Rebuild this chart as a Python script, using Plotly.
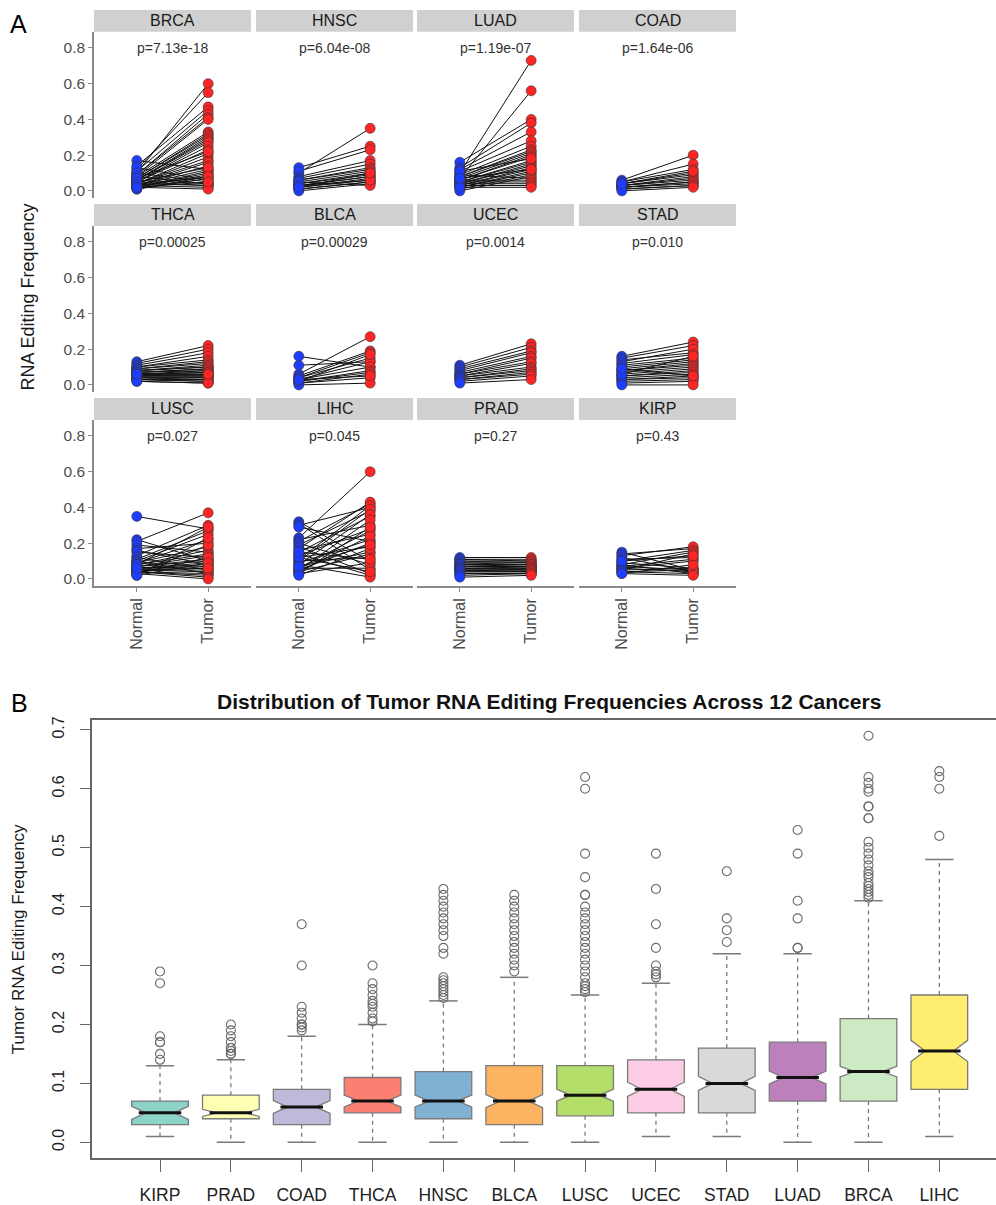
import plotly.graph_objects as go

W, H = 996, 1205
FONT = "Liberation Sans, Arial, Helvetica, sans-serif"

# ---------------- Panel A data ----------------
panel_order = ["BRCA", "HNSC", "LUAD", "COAD",
               "THCA", "BLCA", "UCEC", "STAD",
               "LUSC", "LIHC", "PRAD", "KIRP"]
p_labels = ["p=7.13e-18", "p=6.04e-08", "p=1.19e-07", "p=1.64e-06",
            "p=0.00025", "p=0.00029", "p=0.0014", "p=0.010",
            "p=0.027", "p=0.045", "p=0.27", "p=0.43"]
group_ticks = ["Normal", "Tumor"]
a_yticks = [0.0, 0.2, 0.4, 0.6, 0.8]
a_yticktext = ["0.0", "0.2", "0.4", "0.6", "0.8"]

normal_vals = {
    "BRCA": [0.10, 0.12, 0.17, 0.14, 0.11, 0.09, 0.09, 0.08, 0.08, 0.07, 0.07, 0.06, 0.06, 0.06,
             0.05, 0.05, 0.05, 0.04, 0.04, 0.04, 0.03, 0.03, 0.03, 0.02, 0.02, 0.02, 0.01, 0.01,
             0.13, 0.10, 0.08, 0.06, 0.05, 0.04, 0.03, 0.02, 0.07, 0.05, 0.03, 0.02],
    "HNSC": [0.10, 0.13, 0.11, 0.08, 0.07, 0.06, 0.06, 0.05, 0.04, 0.04, 0.03, 0.03, 0.02, 0.02,
             0.01, 0.01, 0.00, 0.05, 0.03, 0.02],
    "LUAD": [0.10, 0.07, 0.16, 0.13, 0.12, 0.11, 0.09, 0.08, 0.08, 0.07, 0.06, 0.06, 0.05, 0.05,
             0.04, 0.04, 0.03, 0.03, 0.02, 0.02, 0.01, 0.00, 0.09, 0.06, 0.05, 0.04, 0.03, 0.02,
             0.11, 0.07],
    "COAD": [0.06, 0.05, 0.05, 0.04, 0.04, 0.03, 0.03, 0.03, 0.02, 0.02, 0.02, 0.01, 0.01, 0.00, 0.04],
    "THCA": [0.13, 0.12, 0.11, 0.10, 0.10, 0.09, 0.09, 0.08, 0.08, 0.08, 0.07, 0.07, 0.07, 0.06,
             0.06, 0.06, 0.06, 0.05, 0.05, 0.05, 0.05, 0.04, 0.04, 0.04, 0.03, 0.03, 0.03, 0.02,
             0.02, 0.06],
    "BLCA": [0.16, 0.11, 0.06, 0.05, 0.04, 0.04, 0.03, 0.03, 0.02, 0.02, 0.01, 0.01, 0.00, 0.02, 0.03],
    "UCEC": [0.11, 0.10, 0.09, 0.08, 0.07, 0.06, 0.06, 0.05, 0.05, 0.04, 0.04, 0.03, 0.03, 0.02, 0.01],
    "STAD": [0.16, 0.15, 0.14, 0.13, 0.12, 0.11, 0.10, 0.09, 0.08, 0.08, 0.07, 0.06, 0.05, 0.05,
             0.04, 0.03, 0.03, 0.02, 0.01, 0.00, 0.06, 0.09],
    "LUSC": [0.35, 0.22, 0.21, 0.19, 0.17, 0.16, 0.15, 0.13, 0.12, 0.11, 0.10, 0.10, 0.09, 0.09,
             0.08, 0.08, 0.07, 0.07, 0.07, 0.06, 0.06, 0.06, 0.05, 0.05, 0.05, 0.04, 0.04, 0.04,
             0.03, 0.03, 0.03, 0.02, 0.02, 0.08, 0.06],
    "LIHC": [0.32, 0.31, 0.30, 0.29, 0.23, 0.22, 0.21, 0.20, 0.19, 0.18, 0.17, 0.16, 0.15, 0.14,
             0.13, 0.12, 0.11, 0.10, 0.10, 0.09, 0.08, 0.08, 0.07, 0.06, 0.06, 0.05, 0.05, 0.04,
             0.04, 0.03, 0.03, 0.02, 0.12, 0.15, 0.07],
    "PRAD": [0.12, 0.11, 0.11, 0.10, 0.10, 0.09, 0.09, 0.08, 0.08, 0.08, 0.07, 0.07, 0.07, 0.06,
             0.06, 0.06, 0.05, 0.05, 0.05, 0.04, 0.04, 0.03, 0.03, 0.02, 0.01],
    "KIRP": [0.15, 0.14, 0.13, 0.12, 0.11, 0.10, 0.09, 0.08, 0.08, 0.07, 0.07, 0.06, 0.06, 0.05,
             0.05, 0.04, 0.04, 0.03, 0.03, 0.10],
}
tumor_vals = {
    "BRCA": [0.60, 0.55, 0.12, 0.47, 0.45, 0.43, 0.41, 0.40, 0.33, 0.32, 0.31, 0.30, 0.29, 0.28,
             0.27, 0.25, 0.23, 0.21, 0.19, 0.17, 0.16, 0.14, 0.12, 0.11, 0.10, 0.09, 0.08, 0.07,
             0.06, 0.05, 0.04, 0.04, 0.03, 0.03, 0.02, 0.01, 0.22, 0.13, 0.08, 0.05],
    "HNSC": [0.35, 0.25, 0.23, 0.17, 0.15, 0.13, 0.12, 0.11, 0.10, 0.09, 0.08, 0.08, 0.07, 0.06,
             0.05, 0.05, 0.04, 0.03, 0.06, 0.10],
    "LUAD": [0.73, 0.56, 0.40, 0.38, 0.33, 0.28, 0.25, 0.23, 0.22, 0.21, 0.20, 0.19, 0.17, 0.16,
             0.15, 0.14, 0.13, 0.12, 0.11, 0.10, 0.09, 0.08, 0.07, 0.06, 0.05, 0.04, 0.03, 0.02,
             0.18, 0.12],
    "COAD": [0.20, 0.15, 0.12, 0.10, 0.09, 0.08, 0.07, 0.06, 0.05, 0.05, 0.04, 0.03, 0.03, 0.02, 0.11],
    "THCA": [0.22, 0.20, 0.18, 0.16, 0.14, 0.13, 0.12, 0.11, 0.10, 0.10, 0.09, 0.09, 0.08, 0.08,
             0.07, 0.07, 0.06, 0.06, 0.05, 0.05, 0.05, 0.04, 0.04, 0.03, 0.03, 0.02, 0.02, 0.01,
             0.01, 0.06],
    "BLCA": [0.10, 0.13, 0.27, 0.19, 0.18, 0.15, 0.13, 0.10, 0.08, 0.07, 0.06, 0.04, 0.01, 0.17, 0.05],
    "UCEC": [0.23, 0.21, 0.19, 0.18, 0.16, 0.15, 0.13, 0.12, 0.10, 0.09, 0.08, 0.07, 0.06, 0.05, 0.03],
    "STAD": [0.24, 0.22, 0.18, 0.20, 0.17, 0.15, 0.14, 0.13, 0.12, 0.11, 0.10, 0.09, 0.08, 0.07,
             0.06, 0.05, 0.04, 0.03, 0.02, 0.00, 0.16, 0.05],
    "LUSC": [0.28, 0.10, 0.37, 0.15, 0.20, 0.08, 0.12, 0.30, 0.05, 0.27, 0.25, 0.03, 0.22, 0.18,
             0.16, 0.14, 0.13, 0.11, 0.10, 0.09, 0.08, 0.07, 0.06, 0.05, 0.04, 0.03, 0.02, 0.01,
             0.00, 0.12, 0.19, 0.23, 0.09, 0.29, 0.06],
    "LIHC": [0.10, 0.05, 0.40, 0.21, 0.60, 0.30, 0.42, 0.08, 0.38, 0.03, 0.43, 0.25, 0.35, 0.02,
             0.28, 0.18, 0.41, 0.39, 0.12, 0.22, 0.01, 0.36, 0.15, 0.27, 0.06, 0.33, 0.20, 0.14,
             0.24, 0.09, 0.29, 0.17, 0.04, 0.11, 0.19],
    "PRAD": [0.12, 0.11, 0.10, 0.10, 0.09, 0.09, 0.08, 0.08, 0.08, 0.07, 0.07, 0.07, 0.06, 0.06,
             0.06, 0.05, 0.05, 0.05, 0.04, 0.04, 0.04, 0.03, 0.03, 0.03, 0.02],
    "KIRP": [0.05, 0.17, 0.18, 0.04, 0.12, 0.16, 0.06, 0.03, 0.15, 0.05, 0.11, 0.04, 0.10, 0.06,
             0.14, 0.03, 0.05, 0.02, 0.08, 0.13],
}

# ---------------- Panel B data ----------------
cancers_b = ["KIRP", "PRAD", "COAD", "THCA", "HNSC", "BLCA",
             "LUSC", "UCEC", "STAD", "LUAD", "BRCA", "LIHC"]
fill_colors = ["#8DD3C7", "#FFFFB3", "#BEBADA", "#FB8072", "#80B1D3", "#FDB462",
               "#B3DE69", "#FCCDE5", "#D9D9D9", "#BC80BD", "#CCEBC5", "#FFED6F"]
q1_vals = [0.030, 0.040, 0.030, 0.050, 0.040, 0.030, 0.045, 0.050, 0.050, 0.070, 0.070, 0.090]
median_vals = [0.050, 0.050, 0.060, 0.070, 0.070, 0.070, 0.080, 0.090, 0.100, 0.110, 0.120, 0.155]
q3_vals = [0.070, 0.080, 0.090, 0.110, 0.120, 0.130, 0.130, 0.140, 0.160, 0.170, 0.210, 0.250]
whisk_lo = [0.010, 0.000, 0.000, 0.000, 0.000, 0.000, 0.000, 0.010, 0.010, 0.000, 0.000, 0.010]
whisk_hi = [0.130, 0.140, 0.180, 0.200, 0.240, 0.280, 0.250, 0.270, 0.320, 0.320, 0.410, 0.480]
notch_span = [0.011, 0.006, 0.011, 0.010, 0.010, 0.011, 0.010, 0.012, 0.012, 0.011, 0.009, 0.018]
outlier_vals = {
    "KIRP": [0.29, 0.27, 0.18, 0.17, 0.17, 0.15, 0.14],
    "PRAD": [0.20, 0.19, 0.18, 0.17, 0.16, 0.16, 0.155, 0.15, 0.15],
    "COAD": [0.37, 0.30, 0.23, 0.22, 0.21, 0.20, 0.20, 0.195, 0.19],
    "THCA": [0.30, 0.27, 0.26, 0.25, 0.24, 0.235, 0.23, 0.22, 0.21, 0.205],
    "HNSC": [0.43, 0.42, 0.41, 0.40, 0.39, 0.38, 0.37, 0.36, 0.35, 0.33, 0.32, 0.28, 0.275,
             0.27, 0.265, 0.26, 0.255, 0.25, 0.245],
    "BLCA": [0.42, 0.41, 0.40, 0.39, 0.38, 0.37, 0.36, 0.35, 0.34, 0.33, 0.32, 0.31, 0.30, 0.29],
    "LUSC": [0.62, 0.60, 0.49, 0.45, 0.42, 0.42, 0.40, 0.39, 0.38, 0.37, 0.36, 0.35, 0.34, 0.33,
             0.32, 0.31, 0.30, 0.29, 0.28, 0.27, 0.265, 0.26, 0.255],
    "UCEC": [0.49, 0.43, 0.37, 0.33, 0.30, 0.29, 0.285, 0.28],
    "STAD": [0.46, 0.38, 0.36, 0.34],
    "LUAD": [0.53, 0.49, 0.41, 0.38, 0.33, 0.33],
    "BRCA": [0.69, 0.62, 0.61, 0.60, 0.595, 0.57, 0.57, 0.55, 0.55, 0.51, 0.50, 0.49, 0.48,
             0.47, 0.46, 0.455, 0.45, 0.44, 0.435, 0.43, 0.425, 0.42, 0.415],
    "LIHC": [0.63, 0.62, 0.60, 0.52],
}
b_yticks = [0.0, 0.1, 0.2, 0.3, 0.4, 0.5, 0.6, 0.7]
b_yticktext = ["0.0", "0.1", "0.2", "0.3", "0.4", "0.5", "0.6", "0.7"]


def px_x(v):
    return v / W


def px_y(v):
    return 1 - v / H


fig = go.Figure()
layout_axes = {}
annotations = []
shapes = []

AX_GRAY = "#8a8a8a"
TXT_GRAY = "#4d4d4d"

col_left = [94, 256, 417, 579]
panel_w = 157
row_top = [6, 201, 396]
strip_h = 22
panel_h = 167

for k, c in enumerate(panel_order):
    r, cc = divmod(k, 4)
    idx = k + 1
    suffix = "" if idx == 1 else str(idx)
    xname, yname = "x" + suffix, "y" + suffix
    x0 = col_left[cc]
    x1 = x0 + panel_w
    s0 = row_top[r]
    s1 = s0 + strip_h
    p1 = s1 + panel_h
    bottom = (r == 2)
    left = (cc == 0)
    layout_axes["xaxis" + suffix] = dict(
        domain=[px_x(x0), px_x(x1)], range=[0.4, 2.6], anchor=yname,
        tickvals=[1, 2], ticktext=group_ticks, showticklabels=bottom,
        ticks="outside" if bottom else "", ticklen=4, tickcolor=AX_GRAY,
        showline=bottom, linecolor=AX_GRAY, linewidth=1.5, tickangle=-90,
        showgrid=False, zeroline=False,
        tickfont=dict(family=FONT, size=16, color=TXT_GRAY))
    layout_axes["yaxis" + suffix] = dict(
        domain=[px_y(p1), px_y(s1)], range=[-0.04, 0.89], anchor=xname,
        tickvals=a_yticks, ticktext=a_yticktext, showticklabels=left,
        ticks="outside" if left else "", ticklen=4, tickcolor=AX_GRAY,
        showline=left, linecolor=AX_GRAY, linewidth=1.5,
        showgrid=False, zeroline=False,
        tickfont=dict(family=FONT, size=15.5, color=TXT_GRAY))

    nv = normal_vals[c]
    tv = tumor_vals[c]
    xs, ys = [], []
    for n, t in zip(nv, tv):
        xs += [1, 2, None]
        ys += [n, t, None]
    fig.add_trace(go.Scatter(x=xs, y=ys, mode="lines",
                             line=dict(color="#111111", width=1.0),
                             xaxis=xname, yaxis=yname, showlegend=False, hoverinfo="skip"))
    fig.add_trace(go.Scatter(x=[1] * len(nv), y=nv, mode="markers",
                             marker=dict(size=10, color="#1f3dff",
                                         line=dict(color="#333333", width=0.6)),
                             xaxis=xname, yaxis=yname, showlegend=False))
    fig.add_trace(go.Scatter(x=[2] * len(tv), y=tv, mode="markers",
                             marker=dict(size=10, color="#ff2525",
                                         line=dict(color="#333333", width=0.6)),
                             xaxis=xname, yaxis=yname, showlegend=False))

    shapes.append(dict(type="rect", xref="paper", yref="paper",
                       x0=px_x(x0), x1=px_x(x1), y0=px_y(s1), y1=px_y(s0),
                       fillcolor="#d0d0d0", line=dict(width=0), layer="below"))
    annotations.append(dict(text=c, xref="paper", yref="paper",
                            x=px_x((x0 + x1) / 2), y=px_y((s0 + s1) / 2),
                            xanchor="center", yanchor="middle", showarrow=False,
                            font=dict(family=FONT, size=16, color="#1a1a1a")))
    annotations.append(dict(text=p_labels[k], xref=xname, yref=yname,
                            x=1.5, y=0.8, xanchor="center", yanchor="middle",
                            showarrow=False,
                            font=dict(family=FONT, size=14, color="#333333")))

annotations.append(dict(text="RNA Editing Frequency", xref="paper", yref="paper",
                        x=px_x(28), y=px_y(295), textangle=-90, showarrow=False,
                        xanchor="center", yanchor="middle",
                        font=dict(family=FONT, size=18, color="#1a1a1a")))
annotations.append(dict(text="A", xref="paper", yref="paper", x=px_x(8), y=px_y(20),
                        xanchor="left", yanchor="middle", showarrow=False,
                        font=dict(family=FONT, size=25, color="#000000")))

# ---------------- Panel B ----------------
BX, BY = "x13", "y13"
BOX_LINE = "#7a7a7a"
wx, wy, cx, cy, mx, my = [], [], [], [], [], []
ox, oy = [], []
for i, c in enumerate(cancers_b):
    pos = i + 1
    fig.add_trace(go.Box(
        x=[pos], q1=[q1_vals[i]], median=[median_vals[i]], q3=[q3_vals[i]],
        lowerfence=[q1_vals[i]], upperfence=[q3_vals[i]], notchspan=[notch_span[i]],
        notched=True, notchwidth=0.25, width=0.8, whiskerwidth=0,
        fillcolor=fill_colors[i], line=dict(color=BOX_LINE, width=1.3),
        boxpoints=False, xaxis=BX, yaxis=BY, showlegend=False, name=c))
    wx += [pos, pos, None, pos, pos, None]
    wy += [q3_vals[i], whisk_hi[i], None, q1_vals[i], whisk_lo[i], None]
    cx += [pos - 0.2, pos + 0.2, None, pos - 0.2, pos + 0.2, None]
    cy += [whisk_hi[i], whisk_hi[i], None, whisk_lo[i], whisk_lo[i], None]
    mx += [pos - 0.3, pos + 0.3, None]
    my += [median_vals[i], median_vals[i], None]
    ox += [pos] * len(outlier_vals[c])
    oy += outlier_vals[c]

fig.add_trace(go.Scatter(x=wx, y=wy, mode="lines",
                         line=dict(color=BOX_LINE, width=1.3, dash="4px,4px"),
                         xaxis=BX, yaxis=BY, showlegend=False, hoverinfo="skip"))
fig.add_trace(go.Scatter(x=cx, y=cy, mode="lines",
                         line=dict(color=BOX_LINE, width=1.5),
                         xaxis=BX, yaxis=BY, showlegend=False, hoverinfo="skip"))
fig.add_trace(go.Scatter(x=mx, y=my, mode="lines",
                         line=dict(color="#111111", width=3),
                         xaxis=BX, yaxis=BY, showlegend=False, hoverinfo="skip"))
fig.add_trace(go.Scatter(x=ox, y=oy, mode="markers",
                         marker=dict(symbol="circle-open", size=9, color="#6a6a6a",
                                     line=dict(width=1.1)),
                         xaxis=BX, yaxis=BY, showlegend=False))

layout_axes["xaxis13"] = dict(
    domain=[px_x(92), 1.0], range=[0.04, 12.80], anchor=BY,
    tickvals=list(range(1, 13)), ticktext=cancers_b,
    ticks="outside", ticklen=12, tickcolor="#666666", tickwidth=1.3,
    showline=True, mirror=True, linecolor="#666666", linewidth=1.5,
    showgrid=False, zeroline=False, ticklabelstandoff=8,
    tickfont=dict(family=FONT, size=17.5, color="#222222"))
layout_axes["yaxis13"] = dict(
    domain=[px_y(1160), px_y(720)], range=[-0.027, 0.716], anchor=BX,
    tickvals=b_yticks, ticktext=b_yticktext, tickangle=-90,
    ticks="outside", ticklen=10, tickcolor="#666666", tickwidth=1.3,
    showline=True, linecolor="#666666", linewidth=1.5,
    showgrid=False, zeroline=False, ticklabelstandoff=10,
    tickfont=dict(family=FONT, size=16, color="#222222"))

annotations.append(dict(text="<b>Distribution of Tumor RNA Editing Frequencies Across 12 Cancers</b>",
                        xref="paper", yref="paper", x=px_x(549), y=px_y(701),
                        xanchor="center", yanchor="middle", showarrow=False,
                        font=dict(family=FONT, size=21, color="#111111")))
annotations.append(dict(text="Tumor RNA Editing Frequency", xref="paper", yref="paper",
                        x=px_x(18), y=px_y(940), textangle=-90, showarrow=False,
                        xanchor="center", yanchor="middle",
                        font=dict(family=FONT, size=17, color="#1a1a1a")))
annotations.append(dict(text="B", xref="paper", yref="paper", x=px_x(9), y=px_y(702),
                        xanchor="left", yanchor="middle", showarrow=False,
                        font=dict(family=FONT, size=25, color="#000000")))

fig.update_layout(
    width=W, height=H, autosize=False,
    margin=dict(l=0, r=0, t=0, b=0),
    paper_bgcolor="white", plot_bgcolor="white",
    showlegend=False, annotations=annotations, shapes=shapes,
    font=dict(family=FONT),
    **layout_axes)

fig.write_html("out.html")
